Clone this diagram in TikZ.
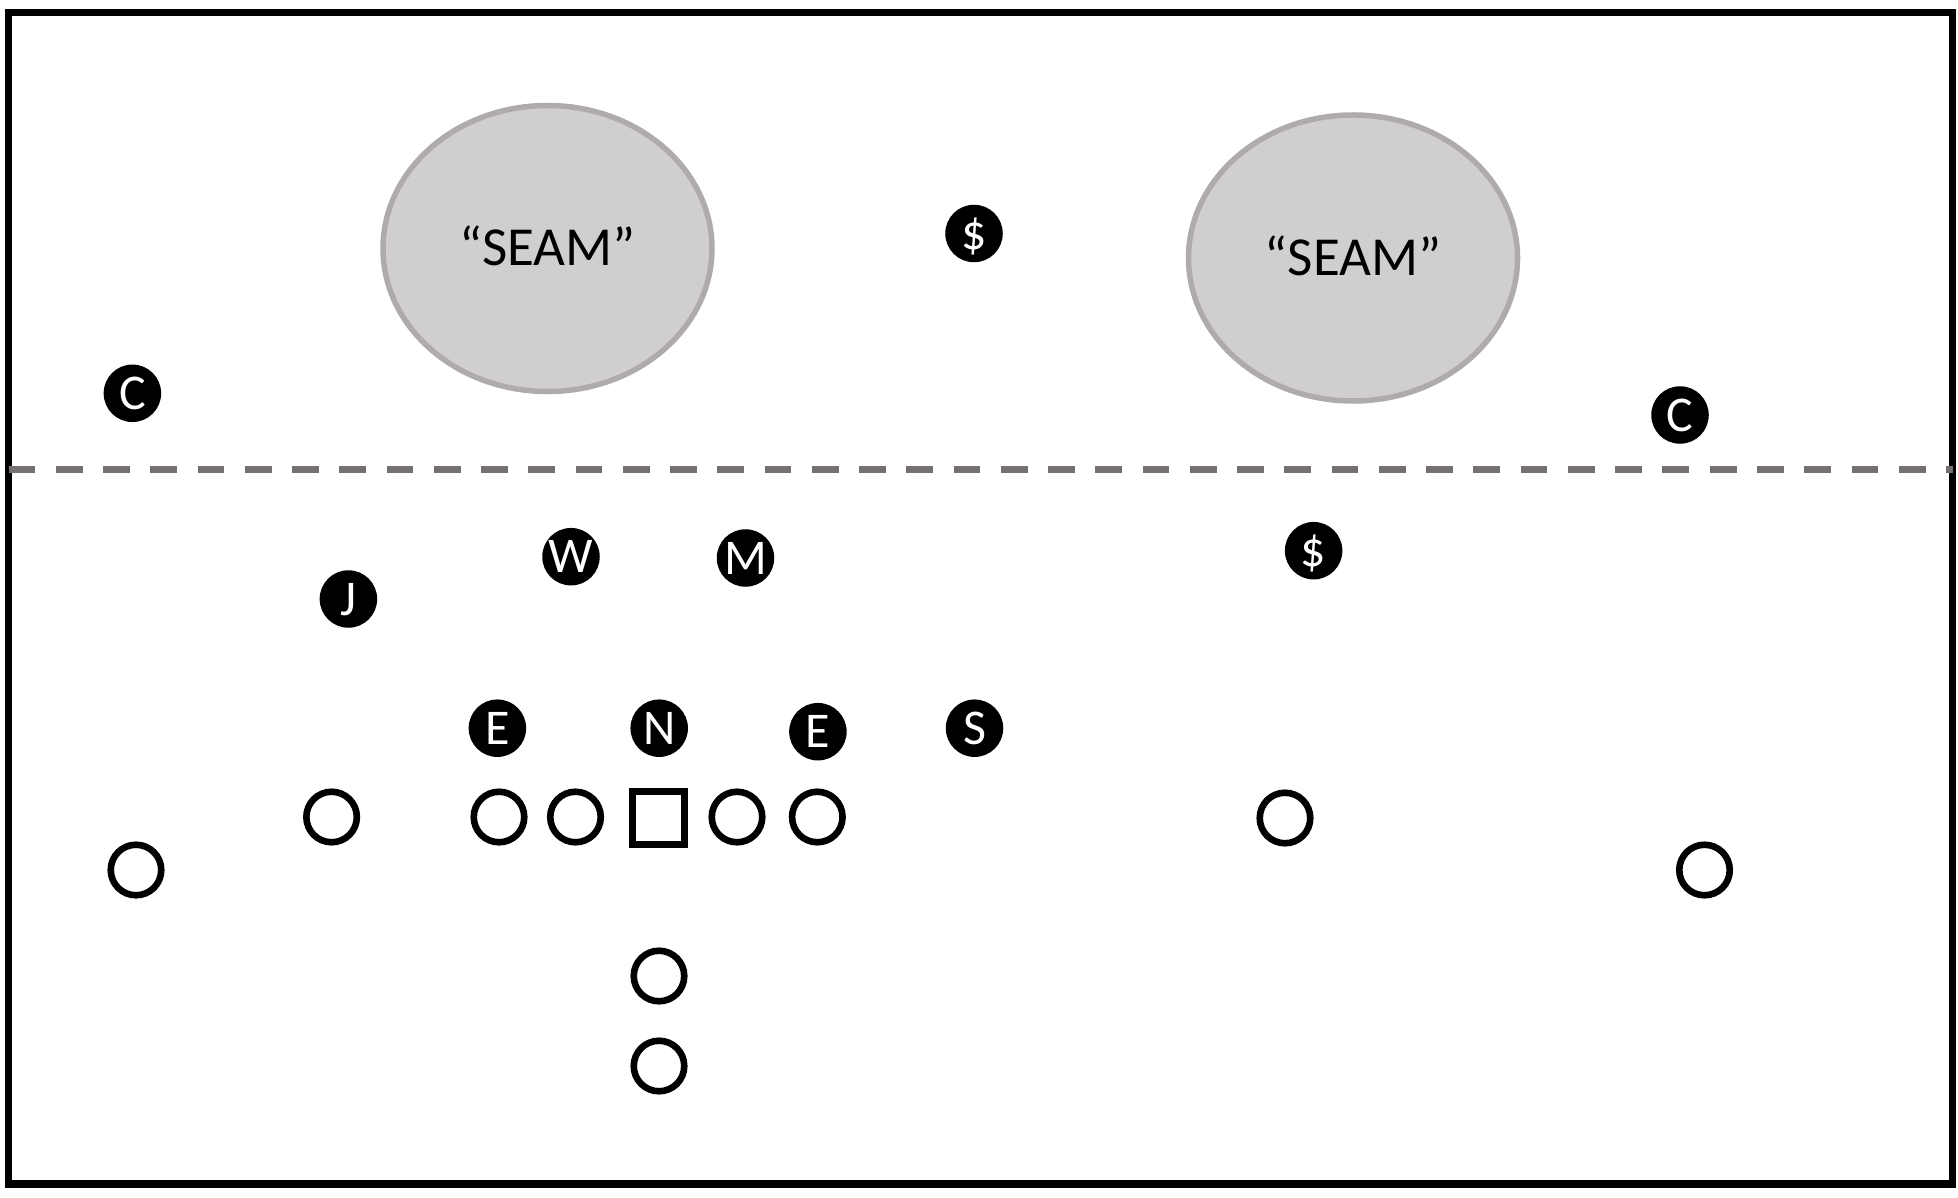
\documentclass[tikz,border=0pt]{standalone}
\usepackage{fontspec}
\setmainfont{Carlito}
\usetikzlibrary{shapes.geometric}
\definecolor{seamfill}{HTML}{D0CECE}
\definecolor{seamline}{HTML}{AFABAB}
\definecolor{dashgray}{HTML}{767171}
\tikzset{
  seam/.style={ellipse, fill=seamfill, draw=seamline, line width=2.2pt,
    minimum width=131.6pt, minimum height=114.4pt, inner sep=0pt,
    font=\fontsize{22}{26}\selectfont, text height=14pt, text depth=0pt},
  defender/.style={circle, fill=black, inner sep=0pt, minimum size=23pt,
    text=white, font=\fontsize{20}{22}\selectfont, text height=12.8pt, text depth=0pt},
  offense/.style={circle, draw=black, fill=white, line width=2.65pt,
    minimum size=20.2pt, inner sep=0pt},
  center/.style={rectangle, draw=black, fill=white, line width=2.7pt,
    minimum size=21pt, inner sep=0pt},
  frameline/.style={draw=black, line width=2.9pt},
  losline/.style={draw=dashgray, line width=2.7pt, dash pattern=on 10.7pt off 8.2pt}
}
\begin{document}
\begin{tikzpicture}[x=0.4pt, y=-0.4pt]
\useasboundingbox (0,0) rectangle (1958,1198);
% frame
\draw[frameline] (8.7,12.3) rectangle (1952.7,1184);
% line of scrimmage
\coordinate (losL) at (8.7,469.3);
\coordinate (losR) at (1952.7,469.3);
\draw[losline] (losL) -- (losR);
% seams
\node[seam] (seam1) at (547.5,248.5) {“SEAM”};
\node[seam] (seam2) at (1353,258) {“SEAM”};
% defenders
\node[defender] (c1) at (132.4,393.3) {C};
\node[defender] (fs) at (974,233.5) {\$};
\node[defender] (c2) at (1680,415) {C};
\node[defender] (w) at (571,556.7) {W};
\node[defender] (m) at (745.5,558) {M};
\node[defender] (ss) at (1313.6,550.7) {\$};
\node[defender] (j) at (348.4,599) {J};
\node[defender] (e1) at (497.4,728.2) {E};
\node[defender] (n) at (659.2,728.2) {N};
\node[defender] (e2) at (817.9,731.7) {E};
\node[defender] (s) at (974.5,728.2) {S};
% offense
\node[offense] (o1) at (331.6,817) {};
\node[offense] (o2) at (499,817) {};
\node[offense] (o3) at (575.5,817) {};
\node[center] (ctr) at (658.5,818) {};
\node[offense] (o4) at (737,817) {};
\node[offense] (o5) at (817.3,817) {};
\node[offense] (o6) at (1285,818) {};
\node[offense] (o7) at (136,870) {};
\node[offense] (o8) at (1704.5,870) {};
\node[offense] (qb) at (659,976) {};
\node[offense] (rb) at (659,1066) {};
\end{tikzpicture}
\end{document}
